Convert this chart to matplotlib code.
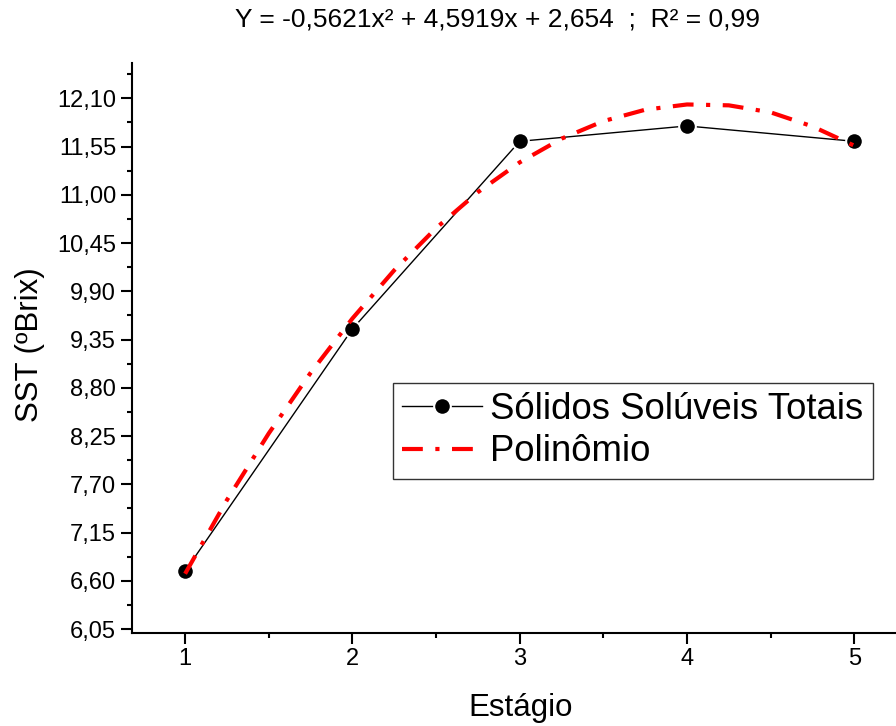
import numpy as np
import matplotlib
matplotlib.use('Agg')
import matplotlib.pyplot as plt
from matplotlib.ticker import MultipleLocator, FuncFormatter

plt.rcParams['font.family'] = ['Liberation Sans', 'DejaVu Sans']

# measured data
estagio = [1, 2, 3, 4, 5]
sst = [6.71, 9.47, 11.61, 11.785, 11.61]

# fitted curve
poly_x = [1.0, 1.25, 1.5, 1.75, 2.0, 2.25, 2.5, 2.75, 3.0,
          3.25, 3.5, 3.75, 4.0, 4.25, 4.5, 4.75, 5.0]
poly_y = [6.68, 7.52, 8.28, 8.97, 9.59, 10.14, 10.62, 11.03, 11.37,
          11.64, 11.84, 11.97, 12.03, 12.02, 11.94, 11.78, 11.56]

yticks = [6.05, 6.60, 7.15, 7.70, 8.25, 8.80, 9.35, 9.90, 10.45, 11.00, 11.55, 12.10]

fig = plt.figure(figsize=(8.96, 7.26), dpi=100)
ax = fig.add_axes([0.147, 0.1285, 0.8625, 0.785])

ax.plot(estagio, sst, color='black', lw=1, marker='o', markersize=12,
        markerfacecolor='black', markeredgecolor='white', markeredgewidth=1.5,
        label='Sólidos Solúveis Totais', zorder=3)
ax.plot(poly_x, poly_y, color='red', lw=3, linestyle=(0, (5.0, 3.0, 1.0, 3.0)),
        label='Polinômio', zorder=4)

ax.set_xlim(0.681, 5.3)
ax.set_ylim(6.008, 12.505)
ax.set_xticks(estagio)
ax.xaxis.set_minor_locator(MultipleLocator(0.5))
ax.set_yticks(yticks)
ax.yaxis.set_minor_locator(MultipleLocator(0.275))
ax.yaxis.set_major_formatter(FuncFormatter(lambda v, p: ('%.2f' % v).replace('.', ',')))

for s in ['top', 'right']:
    ax.spines[s].set_visible(False)
for s in ['left', 'bottom']:
    ax.spines[s].set_linewidth(1.5)
ax.tick_params(which='major', direction='out', length=7.7, width=1.5, labelsize=17)
ax.tick_params(which='minor', direction='out', length=3.4, width=1.5)

fig.text(30/896, 1 - 345/726, 'SST (ºBrix)', rotation=90, fontsize=22.5,
         ha='center', va='center')
fig.text(521/896, 1 - 708/726, 'Estágio', fontsize=22.5, ha='center', va='center')
fig.text(497/896, 1 - 20/726, 'Y = -0,5621x² + 4,5919x + 2,654  ;  R² = 0,99',
         fontsize=19, ha='center', va='center')

leg = ax.legend(loc='upper left', bbox_to_anchor=(392.7/896, 1 - 383/726),
                bbox_transform=fig.transFigure, borderaxespad=0, fontsize=26.3,
                fancybox=False, edgecolor='#333333', framealpha=1,
                handlelength=2.2, handletextpad=0.22, borderpad=0.25,
                labelspacing=0.2)
leg.get_frame().set_linewidth(1)

fig.savefig('out.png', dpi=100)
